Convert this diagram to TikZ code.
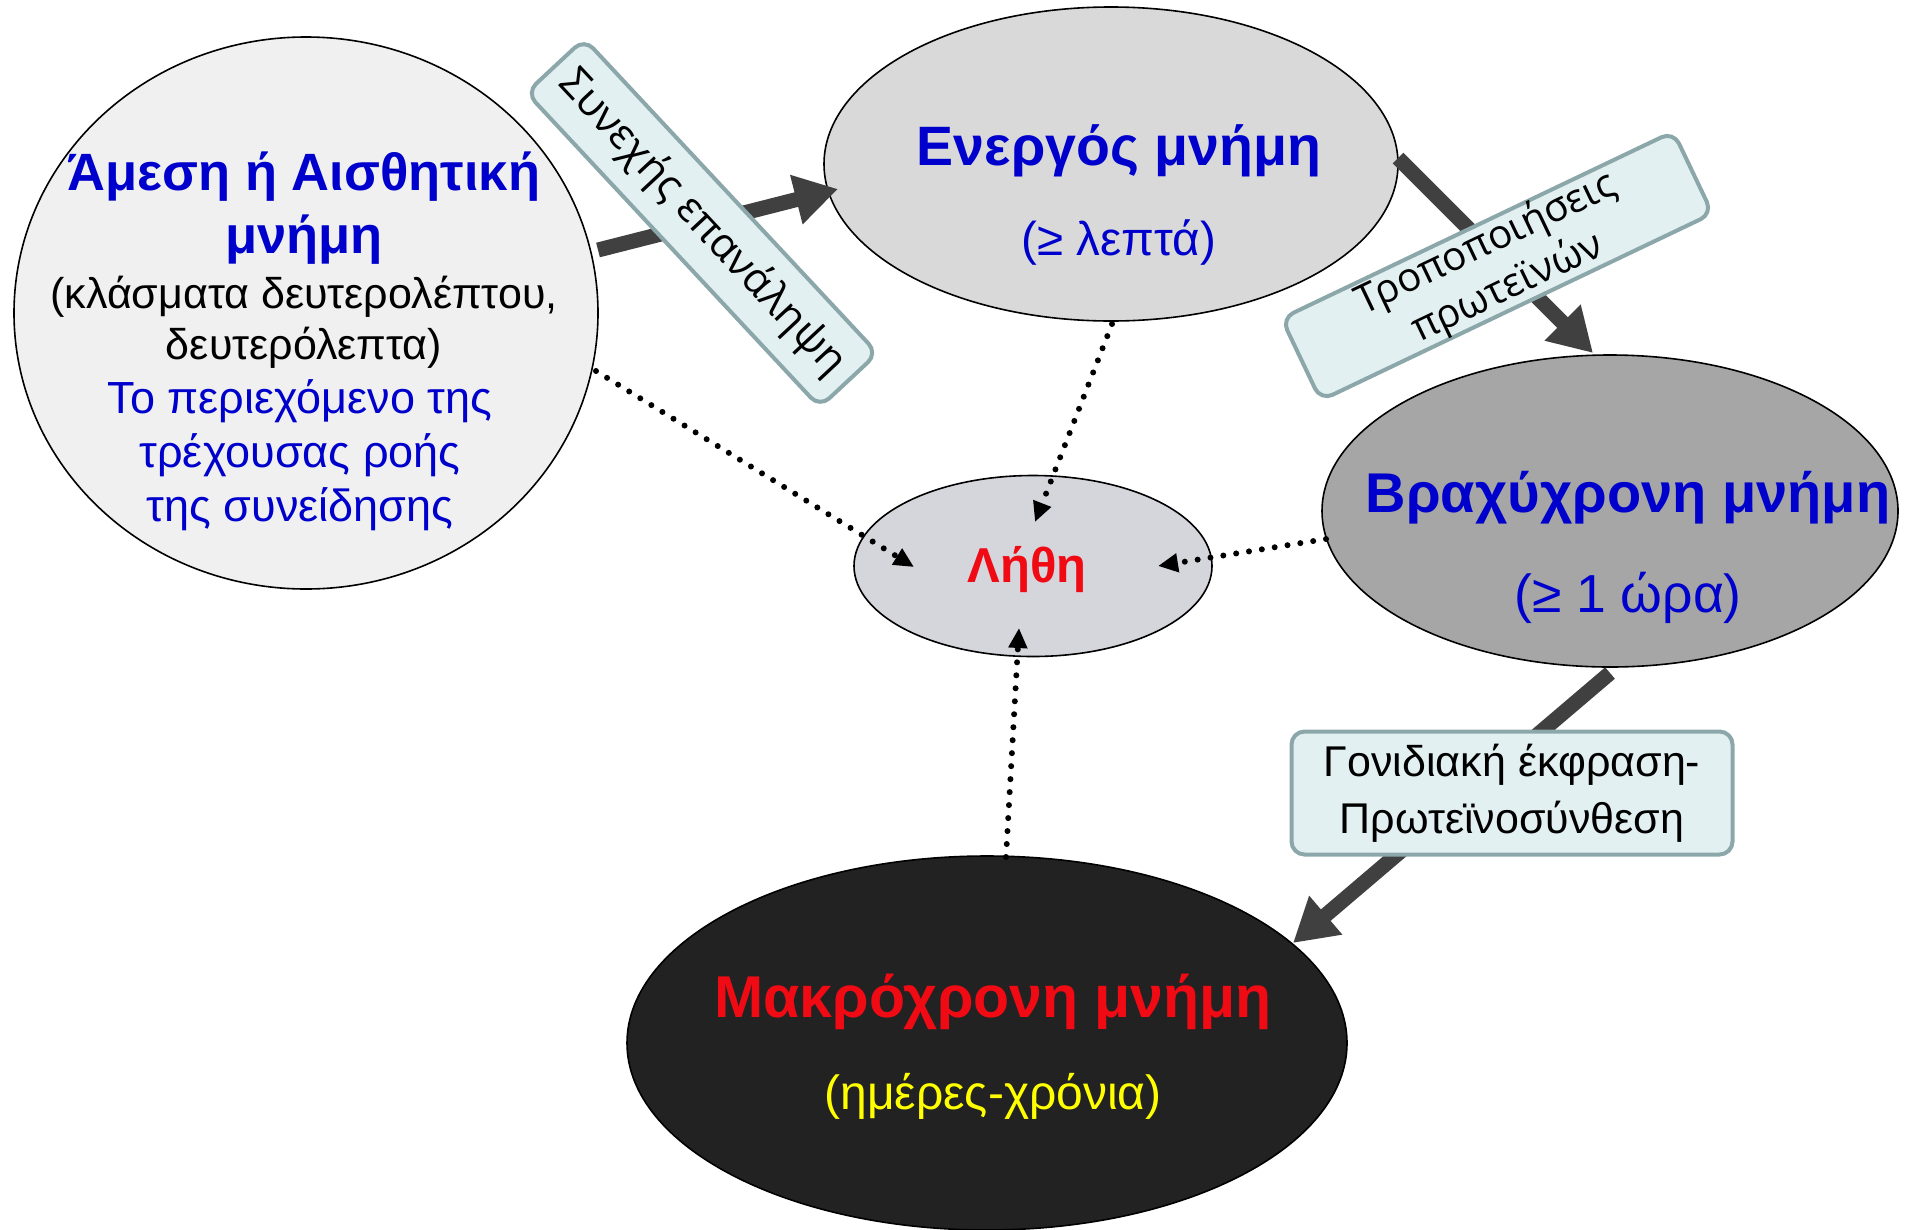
\documentclass[tikz,border=0pt]{standalone}
\usepackage{fontspec}
\setmainfont{Liberation Sans}
\newfontfamily\labelfont{Open Sans}
\usetikzlibrary{shapes.geometric,arrows.meta}
\definecolor{tblue}{HTML}{0000CC}
\definecolor{tred}{HTML}{F00A14}
\definecolor{tyellow}{HTML}{FFFF00}
\definecolor{fillA}{HTML}{F0F0F0}
\definecolor{fillE}{HTML}{D9D9D9}
\definecolor{fillL}{HTML}{D5D5DC}
\definecolor{fillB}{HTML}{A6A6A6}
\definecolor{fillM}{HTML}{222222}
\definecolor{boxfill}{HTML}{E3F0F2}
\definecolor{boxdraw}{HTML}{8CA7AA}
\definecolor{arrowgray}{HTML}{404040}
\tikzset{
  memell/.style={ellipse, draw=black, line width=1.6pt, inner sep=0pt},
  bigarrow/.style={draw=arrowgray, line width=15pt, -{Triangle[length=43pt,width=48pt]}},
  dotarrow/.style={draw=black, line width=6pt, dash pattern=on 0pt off 13pt, line cap=round, -{Triangle[length=20pt,width=18pt]}},
  lblbox/.style={draw=boxdraw, fill=boxfill, line width=4pt, rounded corners=13pt, inner sep=0pt, align=center},
  txt/.style={inner sep=0pt, align=center},
}
\begin{document}
\begin{tikzpicture}[x=1pt,y=-1pt]
\useasboundingbox (0,0) rectangle (1905,1229);
% ellipses
\node[memell, fill=fillA, minimum width=584pt, minimum height=552pt] (amesi) at (306,313) {};
\node[memell, fill=fillE, minimum width=574pt, minimum height=314pt] (energ) at (1111,164) {};
\node[memell, fill=fillL, minimum width=358pt, minimum height=181pt] (lithi) at (1033,566) {};
\node[memell, fill=fillB, minimum width=576pt, minimum height=312pt] (vrax) at (1610,511) {};
\node[memell, fill=fillM, minimum width=720pt, minimum height=374pt] (makr) at (987,1043) {};
% texts
\node[txt, text=tblue, font=\bfseries\fontsize{52.5}{63}\selectfont] (amesiT) at (304,208) {Άμεση ή Αισθητική\\μνήμη};
\node[txt, text=black, font=\fontsize{43}{51}\selectfont] (amesiS) at (304,322) {(κλάσματα δευτερολέπτου,\\δευτερόλεπτα)};
\node[txt, text=tblue, font=\fontsize{45}{54}\selectfont] (amesiD) at (300,455) {Το περιεχόμενο της\\τρέχουσας ροής\\της συνείδησης};
\node[txt, text=tblue, font=\bfseries\fontsize{55.5}{60}\selectfont] (energT) at (1119,151) {Ενεργός μνήμη};
\node[txt, text=tblue, font=\fontsize{47.5}{50}\selectfont] (energS) at (1119,243) {(≥ λεπτά)};
\node[txt, text=tblue, font=\bfseries\fontsize{56}{60}\selectfont] (vraxT) at (1628,498) {Βραχύχρονη μνήμη};
\node[txt, text=tblue, font=\fontsize{53.5}{56}\selectfont] (vraxS) at (1628,598) {(≥ 1 ώρα)};
\node[txt, text=tred, font=\bfseries\fontsize{59}{62}\selectfont] (makrT) at (993,1002) {Μακρόχρονη μνήμη};
\node[txt, text=tyellow, font=\fontsize{48}{50}\selectfont] (makrS) at (993,1096) {(ημέρες-χρόνια)};
\node[txt, text=tred, font=\bfseries\fontsize{49}{52}\selectfont] (lithiT) at (1027,570) {Λήθη};
% connector end points
\coordinate (a1s) at (598,250);
\coordinate (a1e) at (838,189);
\coordinate (a2s) at (1398,158);
\coordinate (a2e) at (1593,353);
\coordinate (a3s) at (1610,673);
\coordinate (a3e) at (1293,943);
\coordinate (d1s) at (596,371);
\coordinate (d1e) at (914,567);
\coordinate (d2s) at (1112,324);
\coordinate (d2e) at (1035,522);
\coordinate (d3s) at (1326,539);
\coordinate (d3e) at (1158,566);
\coordinate (d4s) at (1006,857);
\coordinate (d4e) at (1019,628);
% thick arrows
\draw[bigarrow] (a1s) -- (a1e);
\draw[bigarrow] (a2s) -- (a2e);
\draw[bigarrow] (a3s) -- (a3e);
% dotted arrows
\draw[dotarrow] (d1s) -- (d1e);
\draw[dotarrow] (d2s) -- (d2e);
\draw[dotarrow] (d3s) -- (d3e);
\draw[dotarrow] (d4s) -- (d4e);
% label boxes
\node[lblbox, rotate=-47, minimum width=430pt, minimum height=79pt, font=\labelfont\fontsize{42}{44}\selectfont] (lbl1) at (702,223) {Συνεχής επανάληψη};
\node[lblbox, rotate=25.5, minimum width=434pt, minimum height=86pt, font=\labelfont\fontsize{40}{49}\selectfont] (lbl2) at (1497,266) {Τροποποιήσεις\\πρωτεϊνών};
\node[lblbox, minimum width=441pt, minimum height=123pt, font=\fontsize{43}{57}\selectfont] (lbl3) at (1512,793) {Γονιδιακή έκφραση-\\Πρωτεϊνοσύνθεση};
\end{tikzpicture}
\end{document}
